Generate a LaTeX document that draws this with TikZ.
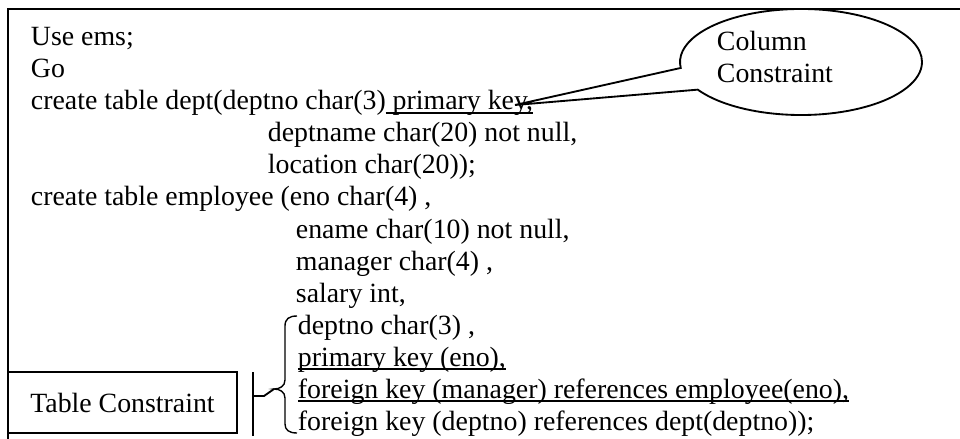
\documentclass[tikz,border=0pt]{standalone}
\usepackage{fontspec}
\setmainfont{Liberation Serif}
\usepackage{tikz}
\usetikzlibrary{shapes.geometric, shapes.callouts}

\newcommand{\ulword}[1]{\setbox0\hbox{#1}\rlap{\rule[-1.6pt]{\wd0}{0.6pt}}\box0}

\begin{document}
\begin{tikzpicture}[x=0.431pt, y=-0.431pt, every node/.style={font=\fontsize{12}{14}\selectfont, inner sep=0pt}, code/.style={anchor=base west}, line width=0.8pt]
\useasboundingbox (0,0) rectangle (960,439);
\coordinate(ftop) at (960,9);
\coordinate(fcorner) at (8,9);
\coordinate(fbot) at (8,439);
\draw (ftop) -- (fcorner) -- (fbot);

\node(l1)[code] at (30,46) {Use ems;};
\node(l2)[code] at (30,78) {Go};
\node(l3)[code] at (30,110) {create table dept(deptno char(3)\ulword{\ primary key,}};
\node(l4)[code] at (267,142) {deptname char(20) not null,};
\node(l5)[code] at (267,174) {location char(20));};
\node(l6)[code] at (30,206) {create table employee (eno char(4) ,};
\node(l7)[code] at (295,238) {ename char(10) not null,};
\node(l8)[code] at (295,270) {manager char(4) ,};
\node(l9)[code] at (295,302) {salary int,};
\node(l10)[code] at (297,334) {deptno char(3) ,};
\node(l11)[code] at (297,366) {\ulword{primary key (eno),}};
\node(l12)[code] at (297,398) {\ulword{foreign key (manager) references employee(eno),}};
\node(l13)[code] at (297,430) {foreign key (deptno) references dept(deptno));};

\coordinate(key) at (515,105);
\node(cc)[ellipse callout, draw, minimum width=104.3pt, minimum height=45.7pt, callout absolute pointer={(key)}, callout pointer arc=25] at (801,62) {};
\node(cctext)[align=left, anchor=north west] at (716,30) {Column\\Constraint};

\node(tc)[draw, minimum width=98.7pt, minimum height=26.3pt] at (122.5,402.5) {Table Constraint};

\coordinate(bt) at (253,372);
\coordinate(bb) at (253,436);
\coordinate(bj) at (253,396);
\coordinate(bk) at (264,396);
\coordinate(tip) at (274,389);
\coordinate(btop) at (297,316);
\coordinate(bbot) at (297,433);
\draw (bt) -- (bb);
\draw (bj) -- (bk) -- (tip);
\draw[line width=0.6pt] (btop) .. controls (289,316) and (285,319) .. (285,326) -- (285,380) .. controls (285,386) and (280,389) .. (tip) .. controls (280,389) and (285,392) .. (285,398) -- (285,424) .. controls (285,430) and (289,433) .. (bbot);
\end{tikzpicture}
\end{document}
